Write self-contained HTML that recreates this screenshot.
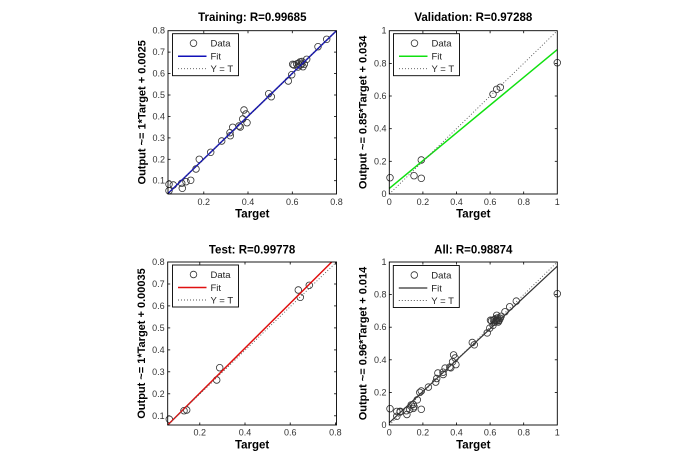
<!DOCTYPE html>
<html><head><meta charset="utf-8"><style>
html,body{margin:0;padding:0;background:#fff;}
svg{display:block;}
text{font-family:"Liberation Sans",Arial,sans-serif;}
.tk{font-size:9px;fill:#333;}
.ttl{font-size:11.5px;font-weight:bold;fill:#000;}
.yl{font-size:11px;font-weight:bold;fill:#000;}
.lg{font-size:9.5px;fill:#222;}
.ax{fill:none;stroke:#000;stroke-width:0.9;}
.tm{stroke:#000;stroke-width:0.8;}
.c{fill:none;stroke:#333;stroke-width:0.8;}
.dot{stroke:#555;stroke-width:0.9;stroke-dasharray:1 2;fill:none;}
</style></head><body>
<svg width="700" height="452" viewBox="0 0 700 452" xmlns="http://www.w3.org/2000/svg">
<rect width="700" height="452" fill="#fff"/>

<!-- ========== TRAINING ========== -->
<g>
<text class="ttl" x="252.3" y="21" text-anchor="middle">Training: R=0.99685</text>
<text class="ttl" x="252.3" y="217.5" text-anchor="middle">Target</text>
<text class="yl" transform="translate(145.5,112.3) rotate(-90)" text-anchor="middle">Output ~= 1*Target + 0.0025</text>
<!-- x ticks -->
<g class="tm">
<line x1="203.8" y1="194" x2="203.8" y2="191.5"/><line x1="203.8" y1="30.7" x2="203.8" y2="33.2"/>
<line x1="248" y1="194" x2="248" y2="191.5"/><line x1="248" y1="30.7" x2="248" y2="33.2"/>
<line x1="292.3" y1="194" x2="292.3" y2="191.5"/><line x1="292.3" y1="30.7" x2="292.3" y2="33.2"/>
<line x1="168" y1="180.7" x2="170.5" y2="180.7"/><line x1="336.5" y1="180.7" x2="334" y2="180.7"/>
<line x1="168" y1="159.3" x2="170.5" y2="159.3"/><line x1="336.5" y1="159.3" x2="334" y2="159.3"/>
<line x1="168" y1="137.9" x2="170.5" y2="137.9"/><line x1="336.5" y1="137.9" x2="334" y2="137.9"/>
<line x1="168" y1="116.4" x2="170.5" y2="116.4"/><line x1="336.5" y1="116.4" x2="334" y2="116.4"/>
<line x1="168" y1="95" x2="170.5" y2="95"/><line x1="336.5" y1="95" x2="334" y2="95"/>
<line x1="168" y1="73.6" x2="170.5" y2="73.6"/><line x1="336.5" y1="73.6" x2="334" y2="73.6"/>
<line x1="168" y1="52.1" x2="170.5" y2="52.1"/><line x1="336.5" y1="52.1" x2="334" y2="52.1"/>
</g>
<g class="tk" text-anchor="middle">
<text x="203.8" y="205">0.2</text><text x="248" y="205">0.4</text><text x="292.3" y="205">0.6</text><text x="336.5" y="205">0.8</text>
</g>
<g class="tk" text-anchor="end">
<text x="165" y="183.7">0.1</text><text x="165" y="162.3">0.2</text><text x="165" y="140.9">0.3</text><text x="165" y="119.4">0.4</text>
<text x="165" y="98">0.5</text><text x="165" y="76.6">0.6</text><text x="165" y="55.1">0.7</text><text x="165" y="33.7">0.8</text>
</g>
<g class="c">
<circle cx="169" cy="184.3" r="3.3"/><circle cx="169" cy="190.7" r="3.3"/><circle cx="173.3" cy="185" r="3.3"/>
<circle cx="181.7" cy="183.3" r="3.3"/><circle cx="182.3" cy="188.3" r="3.3"/><circle cx="186" cy="181.7" r="3.3"/>
<circle cx="190.7" cy="180.3" r="3.3"/><circle cx="196" cy="169" r="3.3"/><circle cx="199.3" cy="159.3" r="3.3"/>
<circle cx="210.7" cy="152.3" r="3.3"/><circle cx="221.7" cy="141" r="3.3"/><circle cx="230" cy="132.7" r="3.3"/>
<circle cx="230.3" cy="135.7" r="3.3"/><circle cx="232.7" cy="127.3" r="3.3"/><circle cx="239" cy="126" r="3.3"/>
<circle cx="240.3" cy="127" r="3.3"/><circle cx="242.7" cy="119" r="3.3"/><circle cx="244" cy="110" r="3.3"/>
<circle cx="246" cy="114" r="3.3"/><circle cx="247" cy="122.7" r="3.3"/><circle cx="268.7" cy="93.7" r="3.3"/>
<circle cx="271.3" cy="96.7" r="3.3"/><circle cx="288.3" cy="81" r="3.3"/><circle cx="291.7" cy="74.7" r="3.3"/>
<circle cx="292.7" cy="64.3" r="3.3"/><circle cx="294" cy="65" r="3.3"/><circle cx="296.7" cy="64" r="3.3"/>
<circle cx="298.3" cy="63.3" r="3.3"/><circle cx="300" cy="65.3" r="3.3"/><circle cx="301.7" cy="64" r="3.3"/>
<circle cx="303" cy="66.7" r="3.3"/><circle cx="304.3" cy="64.3" r="3.3"/><circle cx="300" cy="62" r="3.3"/>
<circle cx="302" cy="61.5" r="3.3"/><circle cx="298" cy="67" r="3.3"/><circle cx="306.7" cy="59.3" r="3.3"/>
<circle cx="318" cy="46.7" r="3.3"/><circle cx="326.7" cy="39.3" r="3.3"/>
</g>
<line x1="168" y1="193.5" x2="336.5" y2="30.7" stroke="#1010b8" stroke-width="1.5"/>
<line class="dot" x1="168" y1="194" x2="336.5" y2="30.7"/>
<rect class="ax" x="168" y="30.7" width="168.5" height="163.3"/>
<g transform="translate(172.5,33.7)">
<rect x="0" y="0" width="66" height="42" fill="#fff" stroke="#000" stroke-width="0.9"/>
<circle class="c" cx="21" cy="9.5" r="3.3"/>
<text class="lg" x="38" y="12.8">Data</text>
<line x1="5.5" y1="22.5" x2="34" y2="22.5" stroke="#1010b8" stroke-width="1.5"/>
<text class="lg" x="38" y="25.8">Fit</text>
<line class="dot" x1="5.5" y1="35" x2="34" y2="35"/>
<text class="lg" x="38" y="38.3">Y = T</text>
</g>
</g>

<!-- ========== VALIDATION ========== -->
<g>
<text class="ttl" x="473.3" y="21" text-anchor="middle">Validation: R=0.97288</text>
<text class="ttl" x="473.3" y="217.5" text-anchor="middle">Target</text>
<text class="yl" transform="translate(366.3,112.3) rotate(-90)" text-anchor="middle">Output ~= 0.85*Target + 0.034</text>
<g class="tm">
<line x1="422.9" y1="194" x2="422.9" y2="191.5"/><line x1="422.9" y1="30.7" x2="422.9" y2="33.2"/>
<line x1="456.5" y1="194" x2="456.5" y2="191.5"/><line x1="456.5" y1="30.7" x2="456.5" y2="33.2"/>
<line x1="490.1" y1="194" x2="490.1" y2="191.5"/><line x1="490.1" y1="30.7" x2="490.1" y2="33.2"/>
<line x1="523.7" y1="194" x2="523.7" y2="191.5"/><line x1="523.7" y1="30.7" x2="523.7" y2="33.2"/>
<line x1="389.3" y1="161.3" x2="391.8" y2="161.3"/><line x1="557.3" y1="161.3" x2="554.8" y2="161.3"/>
<line x1="389.3" y1="128.7" x2="391.8" y2="128.7"/><line x1="557.3" y1="128.7" x2="554.8" y2="128.7"/>
<line x1="389.3" y1="96" x2="391.8" y2="96"/><line x1="557.3" y1="96" x2="554.8" y2="96"/>
<line x1="389.3" y1="63.4" x2="391.8" y2="63.4"/><line x1="557.3" y1="63.4" x2="554.8" y2="63.4"/>
</g>
<g class="tk" text-anchor="middle">
<text x="389.3" y="205">0</text><text x="422.9" y="205">0.2</text><text x="456.5" y="205">0.4</text>
<text x="490.1" y="205">0.6</text><text x="523.7" y="205">0.8</text><text x="557.3" y="205">1</text>
</g>
<g class="tk" text-anchor="end">
<text x="386.5" y="197">0</text><text x="386.5" y="164.3">0.2</text><text x="386.5" y="131.7">0.4</text>
<text x="386.5" y="99">0.6</text><text x="386.5" y="66.4">0.8</text><text x="386.5" y="33.7">1</text>
</g>
<g class="c">
<circle cx="390" cy="177.7" r="3.3"/><circle cx="414" cy="175.7" r="3.3"/><circle cx="421.3" cy="178.3" r="3.3"/>
<circle cx="421.3" cy="160" r="3.3"/><circle cx="493" cy="94.3" r="3.3"/><circle cx="496.7" cy="89.3" r="3.3"/>
<circle cx="500.3" cy="87.3" r="3.3"/><circle cx="557.3" cy="62.7" r="3.3"/>
</g>
<line x1="389.3" y1="188.4" x2="557.3" y2="49.6" stroke="#10e010" stroke-width="1.5"/>
<line class="dot" x1="389.3" y1="194" x2="557.3" y2="30.7"/>
<rect class="ax" x="389.3" y="30.7" width="168" height="163.3"/>
<g transform="translate(393.5,33.7)">
<rect x="0" y="0" width="66" height="42" fill="#fff" stroke="#000" stroke-width="0.9"/>
<circle class="c" cx="21" cy="9.5" r="3.3"/>
<text class="lg" x="38" y="12.8">Data</text>
<line x1="5.5" y1="22.5" x2="34" y2="22.5" stroke="#10e010" stroke-width="1.5"/>
<text class="lg" x="38" y="25.8">Fit</text>
<line class="dot" x1="5.5" y1="35" x2="34" y2="35"/>
<text class="lg" x="38" y="38.3">Y = T</text>
</g>
</g>

<!-- ========== TEST ========== -->
<g>
<text class="ttl" x="252.1" y="253.5" text-anchor="middle">Test: R=0.99778</text>
<text class="ttl" x="252.1" y="448.5" text-anchor="middle">Target</text>
<text class="yl" transform="translate(145.2,343.5) rotate(-90)" text-anchor="middle">Output ~= 1*Target + 0.00035</text>
<g class="tm">
<line x1="199.8" y1="425" x2="199.8" y2="422.5"/><line x1="199.8" y1="262" x2="199.8" y2="264.5"/>
<line x1="245" y1="425" x2="245" y2="422.5"/><line x1="245" y1="262" x2="245" y2="264.5"/>
<line x1="290.2" y1="425" x2="290.2" y2="422.5"/><line x1="290.2" y1="262" x2="290.2" y2="264.5"/>
<line x1="335.4" y1="425" x2="335.4" y2="422.5"/><line x1="335.4" y1="262" x2="335.4" y2="264.5"/>
<line x1="167.7" y1="415.8" x2="170.2" y2="415.8"/><line x1="336.5" y1="415.8" x2="334" y2="415.8"/>
<line x1="167.7" y1="393.8" x2="170.2" y2="393.8"/><line x1="336.5" y1="393.8" x2="334" y2="393.8"/>
<line x1="167.7" y1="371.8" x2="170.2" y2="371.8"/><line x1="336.5" y1="371.8" x2="334" y2="371.8"/>
<line x1="167.7" y1="349.9" x2="170.2" y2="349.9"/><line x1="336.5" y1="349.9" x2="334" y2="349.9"/>
<line x1="167.7" y1="327.9" x2="170.2" y2="327.9"/><line x1="336.5" y1="327.9" x2="334" y2="327.9"/>
<line x1="167.7" y1="305.9" x2="170.2" y2="305.9"/><line x1="336.5" y1="305.9" x2="334" y2="305.9"/>
<line x1="167.7" y1="284" x2="170.2" y2="284"/><line x1="336.5" y1="284" x2="334" y2="284"/>
</g>
<g class="tk" text-anchor="middle">
<text x="199.8" y="435.5">0.2</text><text x="245" y="435.5">0.4</text><text x="290.2" y="435.5">0.6</text><text x="335.4" y="435.5">0.8</text>
</g>
<g class="tk" text-anchor="end">
<text x="164.7" y="418.8">0.1</text><text x="164.7" y="396.8">0.2</text><text x="164.7" y="374.8">0.3</text><text x="164.7" y="352.9">0.4</text>
<text x="164.7" y="330.9">0.5</text><text x="164.7" y="308.9">0.6</text><text x="164.7" y="287">0.7</text><text x="164.7" y="265">0.8</text>
</g>
<g class="c">
<circle cx="169.3" cy="419.3" r="3.3"/><circle cx="184" cy="410.7" r="3.3"/><circle cx="186.7" cy="410" r="3.3"/>
<circle cx="216.7" cy="380" r="3.3"/><circle cx="219.7" cy="367.7" r="3.3"/><circle cx="298.3" cy="290" r="3.3"/>
<circle cx="300.3" cy="297.3" r="3.3"/><circle cx="309.3" cy="285.3" r="3.3"/>
</g>
<line x1="167.7" y1="425" x2="331.7" y2="262" stroke="#e01010" stroke-width="1.5"/>
<line class="dot" x1="167.7" y1="425" x2="336.5" y2="262"/>
<rect class="ax" x="167.7" y="262" width="168.8" height="163"/>
<g transform="translate(172.5,265)">
<rect x="0" y="0" width="66" height="42" fill="#fff" stroke="#000" stroke-width="0.9"/>
<circle class="c" cx="21" cy="9.5" r="3.3"/>
<text class="lg" x="38" y="12.8">Data</text>
<line x1="5.5" y1="22.5" x2="34" y2="22.5" stroke="#e01010" stroke-width="1.5"/>
<text class="lg" x="38" y="25.8">Fit</text>
<line class="dot" x1="5.5" y1="35" x2="34" y2="35"/>
<text class="lg" x="38" y="38.3">Y = T</text>
</g>
</g>

<!-- ========== ALL ========== -->
<g>
<text class="ttl" x="473.3" y="253.5" text-anchor="middle">All: R=0.98874</text>
<text class="ttl" x="473.3" y="448.5" text-anchor="middle">Target</text>
<text class="yl" transform="translate(366.3,343.5) rotate(-90)" text-anchor="middle">Output ~= 0.96*Target + 0.014</text>
<g class="tm">
<line x1="422.9" y1="425" x2="422.9" y2="422.5"/><line x1="422.9" y1="262" x2="422.9" y2="264.5"/>
<line x1="456.5" y1="425" x2="456.5" y2="422.5"/><line x1="456.5" y1="262" x2="456.5" y2="264.5"/>
<line x1="490.1" y1="425" x2="490.1" y2="422.5"/><line x1="490.1" y1="262" x2="490.1" y2="264.5"/>
<line x1="523.7" y1="425" x2="523.7" y2="422.5"/><line x1="523.7" y1="262" x2="523.7" y2="264.5"/>
<line x1="389.3" y1="392.4" x2="391.8" y2="392.4"/><line x1="557.3" y1="392.4" x2="554.8" y2="392.4"/>
<line x1="389.3" y1="359.8" x2="391.8" y2="359.8"/><line x1="557.3" y1="359.8" x2="554.8" y2="359.8"/>
<line x1="389.3" y1="327.2" x2="391.8" y2="327.2"/><line x1="557.3" y1="327.2" x2="554.8" y2="327.2"/>
<line x1="389.3" y1="294.6" x2="391.8" y2="294.6"/><line x1="557.3" y1="294.6" x2="554.8" y2="294.6"/>
</g>
<g class="tk" text-anchor="middle">
<text x="389.3" y="435.5">0</text><text x="422.9" y="435.5">0.2</text><text x="456.5" y="435.5">0.4</text>
<text x="490.1" y="435.5">0.6</text><text x="523.7" y="435.5">0.8</text><text x="557.3" y="435.5">1</text>
</g>
<g class="tk" text-anchor="end">
<text x="386.5" y="428">0</text><text x="386.5" y="395.4">0.2</text><text x="386.5" y="362.8">0.4</text>
<text x="386.5" y="330.2">0.6</text><text x="386.5" y="297.6">0.8</text><text x="386.5" y="265">1</text>
</g>
<g class="c">
<circle cx="396.8" cy="411.4" r="3.3"/><circle cx="396.8" cy="416.3" r="3.3"/><circle cx="400.1" cy="412" r="3.3"/>
<circle cx="406.4" cy="410.7" r="3.3"/><circle cx="406.9" cy="414.5" r="3.3"/><circle cx="409.7" cy="409.4" r="3.3"/>
<circle cx="413.3" cy="408.4" r="3.3"/><circle cx="417.3" cy="399.8" r="3.3"/><circle cx="419.8" cy="392.4" r="3.3"/>
<circle cx="428.4" cy="387.1" r="3.3"/><circle cx="436.7" cy="378.5" r="3.3"/><circle cx="443" cy="372.2" r="3.3"/>
<circle cx="443.2" cy="374.5" r="3.3"/><circle cx="445.1" cy="368.1" r="3.3"/><circle cx="449.8" cy="367.1" r="3.3"/>
<circle cx="450.8" cy="367.8" r="3.3"/><circle cx="452.6" cy="361.8" r="3.3"/><circle cx="453.6" cy="354.9" r="3.3"/>
<circle cx="455.1" cy="358" r="3.3"/><circle cx="455.9" cy="364.6" r="3.3"/><circle cx="472.3" cy="342.5" r="3.3"/>
<circle cx="474.3" cy="344.8" r="3.3"/><circle cx="487.2" cy="332.9" r="3.3"/><circle cx="489.8" cy="328.1" r="3.3"/>
<circle cx="490.5" cy="320.2" r="3.3"/><circle cx="491.5" cy="320.7" r="3.3"/><circle cx="493.5" cy="319.9" r="3.3"/>
<circle cx="494.8" cy="319.4" r="3.3"/><circle cx="496.1" cy="320.9" r="3.3"/><circle cx="497.3" cy="319.9" r="3.3"/>
<circle cx="498.3" cy="322" r="3.3"/><circle cx="499.3" cy="320.2" r="3.3"/><circle cx="496.1" cy="318.4" r="3.3"/>
<circle cx="497.6" cy="318" r="3.3"/><circle cx="494.5" cy="322.2" r="3.3"/><circle cx="501.1" cy="316.3" r="3.3"/>
<circle cx="509.7" cy="306.8" r="3.3"/><circle cx="516.3" cy="301.1" r="3.3"/>
<circle cx="390" cy="408.7" r="3.3"/><circle cx="414" cy="406.7" r="3.3"/><circle cx="421.3" cy="409.3" r="3.3"/>
<circle cx="421.3" cy="391" r="3.3"/><circle cx="493" cy="325.3" r="3.3"/><circle cx="496.7" cy="320.3" r="3.3"/>
<circle cx="500.3" cy="318.3" r="3.3"/><circle cx="557.3" cy="293.7" r="3.3"/>
<circle cx="400.2" cy="411.3" r="3.3"/><circle cx="411.2" cy="404.9" r="3.3"/><circle cx="413.2" cy="404.4" r="3.3"/>
<circle cx="435.7" cy="382.1" r="3.3"/><circle cx="437.9" cy="373" r="3.3"/><circle cx="496.7" cy="315.3" r="3.3"/>
<circle cx="498.2" cy="320.7" r="3.3"/><circle cx="505" cy="311.8" r="3.3"/>
</g>
<line x1="389.3" y1="422.7" x2="557.3" y2="266.2" stroke="#333" stroke-width="1.2"/>
<line class="dot" x1="389.3" y1="425" x2="557.3" y2="262"/>
<rect class="ax" x="389.3" y="262" width="168" height="163"/>
<g transform="translate(393.3,265.5)">
<rect x="0" y="0" width="66" height="42" fill="#fff" stroke="#000" stroke-width="0.9"/>
<circle class="c" cx="21" cy="9.5" r="3.3"/>
<text class="lg" x="38" y="12.8">Data</text>
<line x1="5.5" y1="22.5" x2="34" y2="22.5" stroke="#333" stroke-width="1.2"/>
<text class="lg" x="38" y="25.8">Fit</text>
<line class="dot" x1="5.5" y1="35" x2="34" y2="35"/>
<text class="lg" x="38" y="38.3">Y = T</text>
</g>
</g>
</svg>
</body></html>
